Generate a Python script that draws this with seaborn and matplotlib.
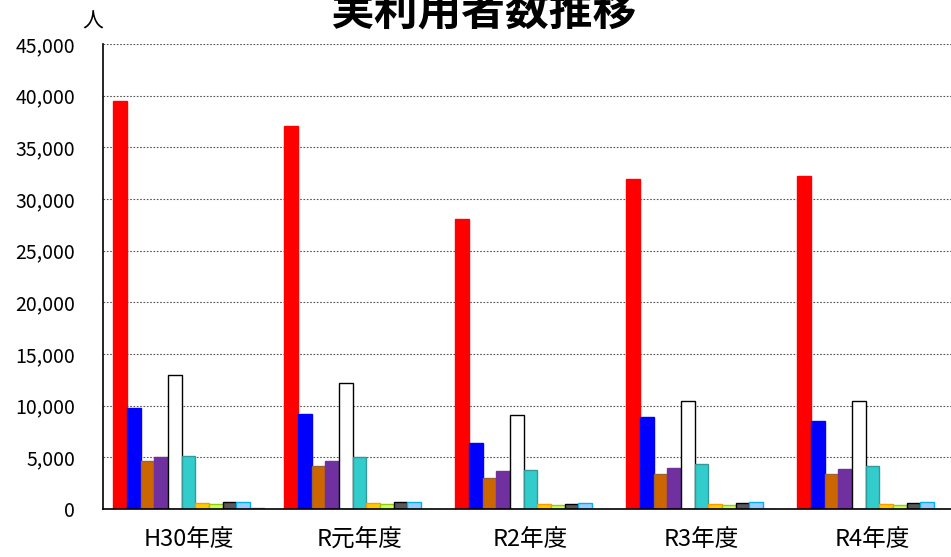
import numpy as np
import pandas as pd
import matplotlib
matplotlib.use("Agg")
import matplotlib.pyplot as plt
import seaborn as sns
from matplotlib.ticker import FuncFormatter, MultipleLocator, FixedLocator

# ---------------- data ----------------
years = ["H30年度", "R元年度", "R2年度", "R3年度", "R4年度"]
series_names = ["系列1", "系列2", "系列3", "系列4", "系列5", "系列6",
                "系列7", "系列8", "系列9", "系列10", "系列11"]
s01 = [39500, 37100, 28100, 31900, 32200]
s02 = [9800, 9150, 6400, 8900, 8500]
s03 = [4600, 4200, 3000, 3400, 3400]
s04 = [5050, 4680, 3650, 3950, 3850]
s05 = [13000, 12200, 9100, 10450, 10450]
s06 = [5100, 5000, 3750, 4350, 4200]
s07 = [550, 550, 450, 450, 450]
s08 = [450, 450, 350, 350, 350]
s09 = [700, 650, 520, 550, 580]
s10 = [700, 700, 600, 680, 680]
s11 = [70, 0, 0, 0, 0]
all_series = [s01, s02, s03, s04, s05, s06, s07, s08, s09, s10, s11]

face_colors = ["#FF0000", "#0000FF", "#CC6600", "#7030A0", "#FFFFFF", "#33CCCC",
               "#FFCC00", "#CCFF66", "#595959", "#99CCFF", "#A6A6A6"]
edge_colors = ["#FF0000", "#0000FF", "#996633", "#7030A0", "#000000", "#339999",
               "#FF9900", "#99CC00", "#000000", "#00B0F0", "#808080"]

rows = []
for name, vals in zip(series_names, all_series):
    for y, v in zip(years, vals):
        rows.append({"年度": y, "系列": name, "人数": v})
df = pd.DataFrame(rows)

# ---------------- figure ----------------
sns.set_style("white")
plt.rcParams["font.family"] = ["Noto Sans CJK JP", "DejaVu Sans"]

W, H = 951, 557
fig = plt.figure(figsize=(W / 100, H / 100), dpi=100)
left, right = 103, 958
top, bottom = 44, 509
ax = fig.add_axes([left / W, (H - bottom) / H, (right - left) / W, (bottom - top) / H])

sns.barplot(data=df, x="年度", y="人数", hue="系列", order=years,
            hue_order=series_names, palette=face_colors, width=0.88,
            errorbar=None, ax=ax, legend=False, linewidth=1.0, saturation=1)

for cont, ec in zip(ax.containers, edge_colors):
    for patch in cont:
        patch.set_edgecolor(ec)
        patch.set_linewidth(1.0)

ax.set_xlim(-0.5, len(years) - 0.5)
ax.set_ylim(0, 45000)
ax.yaxis.set_major_locator(MultipleLocator(5000))
ax.yaxis.set_major_formatter(FuncFormatter(lambda v, p: f"{int(v):,}"))
ax.grid(axis="y", color="#555555", linestyle=(0, (1.5, 1.5)), linewidth=0.8)
ax.set_axisbelow(True)

for s in ["top", "right"]:
    ax.spines[s].set_visible(False)
for s in ["left", "bottom"]:
    ax.spines[s].set_color("black")
    ax.spines[s].set_linewidth(1.2)

ax.set_xlabel("")
ax.set_ylabel("")
ax.tick_params(axis="y", direction="out", length=5, width=1, color="black",
               labelsize=14, pad=15)
ax.tick_params(axis="x", which="major", length=0, labelsize=17, pad=14)
ax.xaxis.set_minor_locator(FixedLocator(np.arange(0.5, len(years) - 0.5 + 0.01, 1.0)))
ax.tick_params(axis="x", which="minor", direction="in", length=7, width=1.2, color="#333333")
for lab in ax.get_yticklabels() + ax.get_xticklabels():
    lab.set_color("black")

fig.text(483 / W, 1 - 12 / H, "実利用者数推移", ha="center", va="center",
         fontsize=31.5, fontweight="bold", color="black")
fig.text(93 / W, 1 - 22 / H, "人", ha="center", va="center", fontsize=15, color="black")

fig.savefig("out.png", dpi=100)
